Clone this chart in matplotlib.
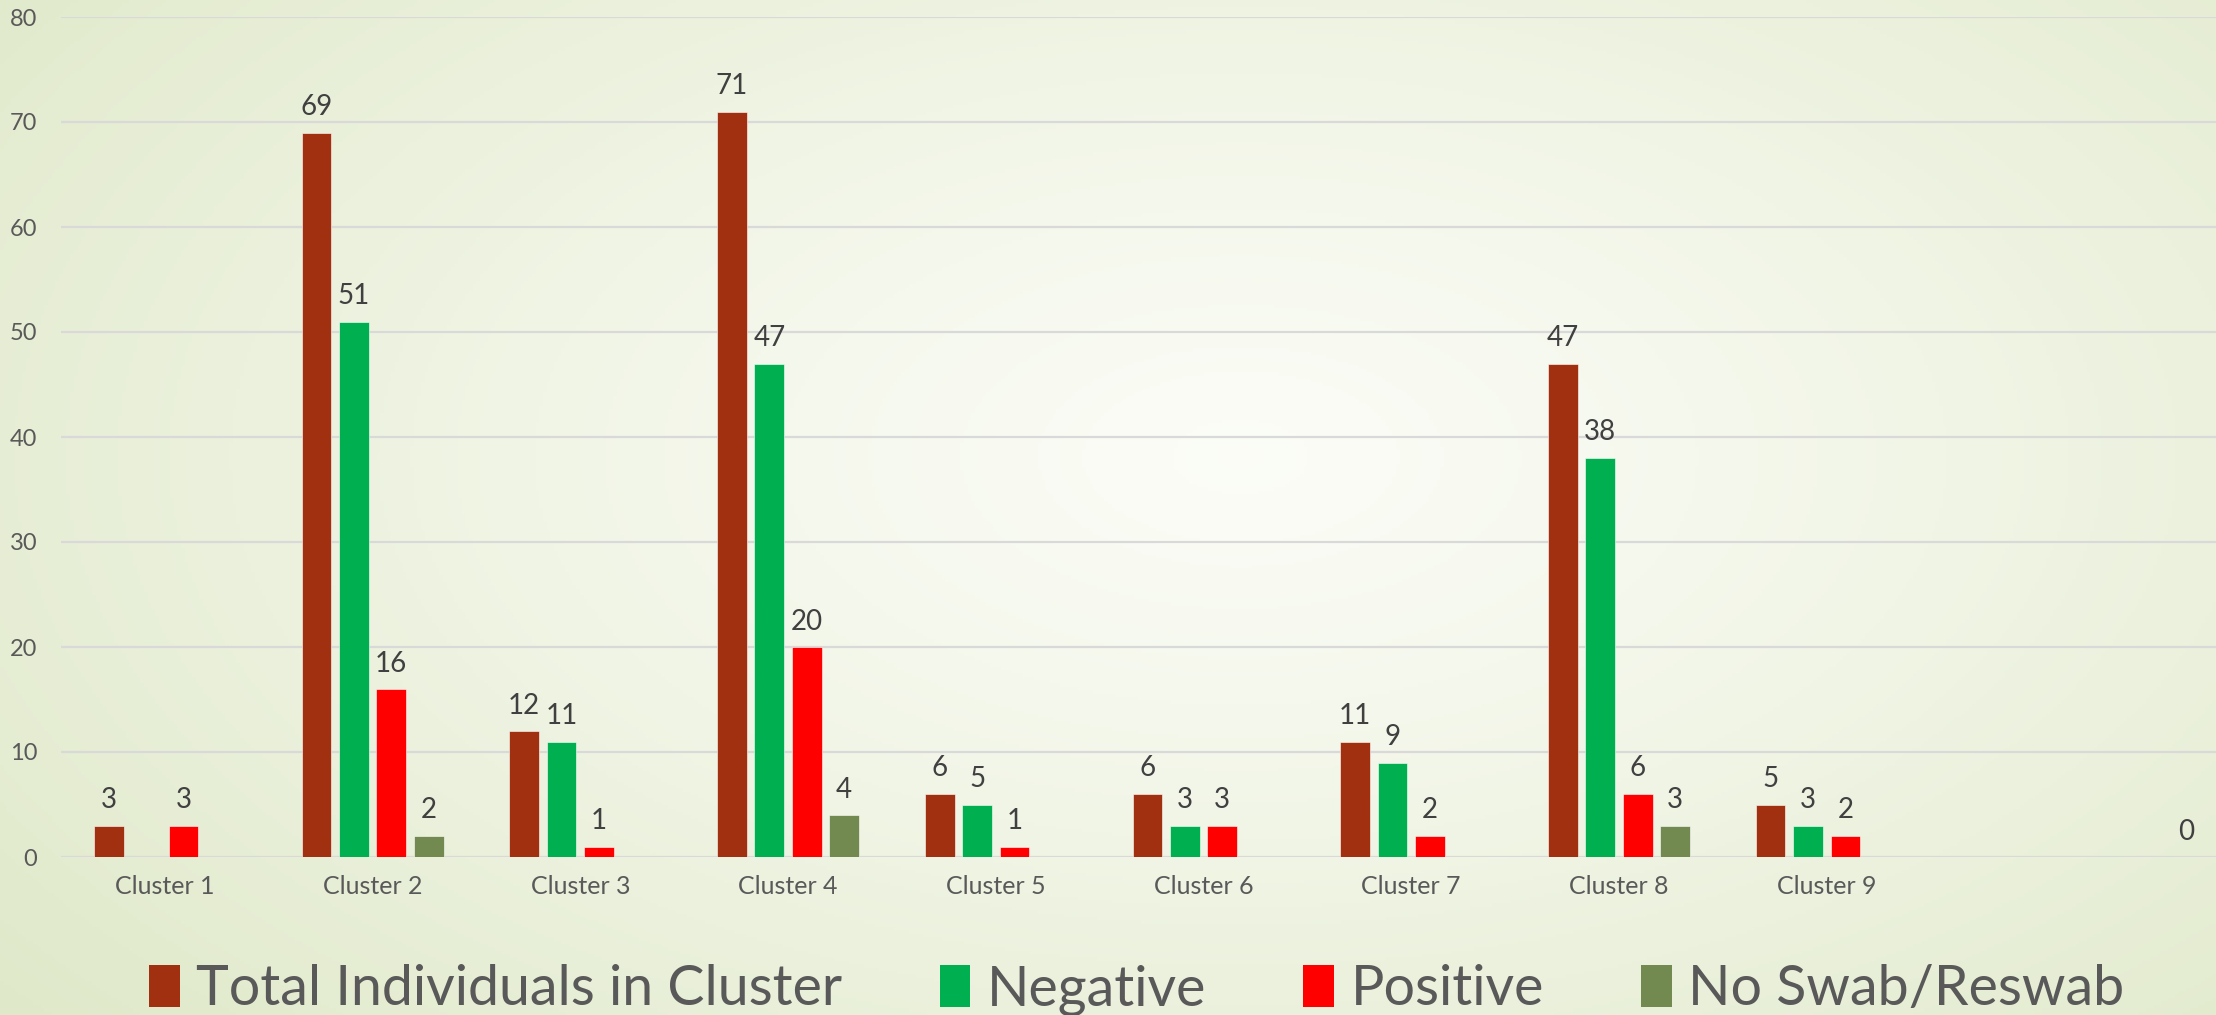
import numpy as np
import matplotlib.pyplot as plt
from matplotlib.patches import Patch

nan = np.nan

# Chart data (last two categories are blank in the source chart)
categories = ['Cluster 1', 'Cluster 2', 'Cluster 3', 'Cluster 4', 'Cluster 5',
              'Cluster 6', 'Cluster 7', 'Cluster 8', 'Cluster 9', '', '']
total = [3, 69, 12, 71, 6, 6, 11, 47, 5, nan, 0]
negative = [nan, 51, 11, 47, 5, 3, 9, 38, 3, nan, nan]
positive = [3, 16, 1, 20, 1, 3, 2, 6, 2, nan, nan]
no_swab = [nan, 2, nan, 4, nan, nan, nan, 3, nan, nan, nan]

series_names = ['Total Individuals in Cluster', 'Negative', 'Positive', 'No Swab/Reswab']
series_values = [total, negative, positive, no_swab]
series_colors = ['#A0300F', '#00B050', '#FF0000', '#72894F']

plt.rcParams['font.family'] = ['Lato', 'DejaVu Sans']

W, H = 2216, 1015
fig = plt.figure(figsize=(W / 100, H / 100), dpi=100)

# Radial gradient background
bg = fig.add_axes([0, 0, 1, 1], zorder=-1)
yy, xx = np.mgrid[0:1:300j, 0:1:600j]
r = np.sqrt(((xx - 0.56) / 0.8) ** 2 + ((yy - 0.55) / 0.95) ** 2)
r = np.clip(r, 0, 1) ** 1.2
c0 = np.array([0.985, 0.99, 0.968])
c1 = np.array([0.862, 0.902, 0.765])
img = c0[None, None, :] * (1 - r[..., None]) + c1[None, None, :] * r[..., None]
bg.imshow(img, extent=[0, 1, 0, 1], aspect='auto', origin='lower')
bg.axis('off')

# Plot area runs past the right edge of the picture, as in the source
left = 61 / W
bottom = (H - 857) / H
ax = fig.add_axes([left, bottom, 2285 / W, 840 / H])
ax.set_facecolor('none')

x = np.arange(len(categories))
bar_w = 0.143
step = 0.18
offsets = (np.arange(4) - 1.5) * step

for vals, name, color, off in zip(series_values, series_names, series_colors, offsets):
    vals = np.array(vals, dtype=float)
    ax.bar(x + off, np.nan_to_num(vals), bar_w, color=color, label=name,
           edgecolor='#ffffff', linewidth=0.4, zorder=3)
    for xi, v in zip(x + off, vals):
        if np.isnan(v):
            continue
        ax.annotate(f'{int(v)}', (xi, v), xytext=(0, 9), textcoords='offset points',
                    ha='center', va='bottom', fontsize=20, color='#404040')

ax.set_xlim(-0.5, len(categories) - 0.5)
ax.set_ylim(0, 80)
ax.set_yticks(range(0, 81, 10))
ax.set_xticks(x)
ax.set_xticklabels(categories)
ax.tick_params(axis='y', length=0, pad=17, labelsize=17, labelcolor='#595959')
ax.tick_params(axis='x', length=0, pad=13, labelsize=18, labelcolor='#595959')
ax.grid(axis='y', color='#D9D9D9', linewidth=1.6, zorder=0)
ax.set_axisbelow(True)
for s in ax.spines.values():
    s.set_visible(False)

handles = [Patch(facecolor=c, edgecolor='none') for c in series_colors]
fig.legend(handles, series_names, loc='center', bbox_to_anchor=(0.513, 1 - 990 / H),
           ncol=4, frameon=False, fontsize=40, labelcolor='#595959',
           handlelength=0.55, handleheight=0.8, handletextpad=0.3, columnspacing=1.75)

fig.savefig('out.png', dpi=100)
